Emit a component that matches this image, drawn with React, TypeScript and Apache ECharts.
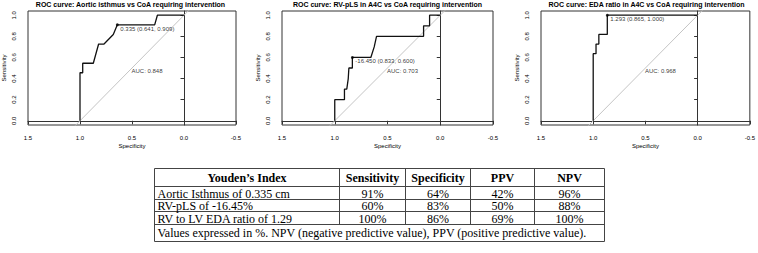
import React, { useEffect, useRef } from "react";
import * as echarts from "echarts";

// ---------- ROC panels ----------
const panelTitles = [
  "ROC curve: Aortic isthmus vs CoA requiring intervention",
  "ROC curve: RV-pLS in A4C vs CoA requiring intervention",
  "ROC curve: EDA ratio in A4C vs CoA requiring intervention",
];
const xAxisName = "Specificity";
const yAxisName = "Sensitivity";
const yTickValues = [0, 0.2, 0.4, 0.6, 0.8, 1.0];

const aorticSpecificity = [1, 1, 0.974, 0.974, 0.872, 0.821, 0.769, 0.68, 0.641, 0.282, 0.256, 0];
const aorticSensitivity = [0, 0.455, 0.455, 0.545, 0.545, 0.727, 0.727, 0.818, 0.909, 0.909, 1, 1];

const rvplsSpecificity = [1, 1, 0.908, 0.908, 0.886, 0.872, 0.866, 0.833, 0.833, 0.658, 0.626, 0.604, 0.158, 0.158, 0.101, 0.101, 0];
const rvplsSensitivity = [0, 0.2, 0.2, 0.3, 0.3, 0.4, 0.5, 0.5, 0.6, 0.6, 0.7, 0.8, 0.8, 0.9, 0.9, 1, 1];

const edaSpecificity = [1, 1, 0.973, 0.973, 0.946, 0.946, 0.865, 0.865, 0];
const edaSensitivity = [0, 0.636, 0.636, 0.727, 0.727, 0.818, 0.818, 1, 1];

const thresholdValues = [0.335, -16.45, 1.293];
const thresholdSpecificity = [0.641, 0.833, 0.865];
const thresholdSensitivity = [0.909, 0.6, 1.0];
const aucValues = [0.848, 0.703, 0.968];

// ---------- Table ----------
const tableHeaders = ["Youden’s Index", "Sensitivity", "Specificity", "PPV", "NPV"];
const tableRowNames = ["Aortic Isthmus of 0.335 cm", "RV-pLS of -16.45%", "RV to LV EDA ratio of 1.29"];
const tableSensitivity = [91, 60, 100];
const tableSpecificity = [64, 83, 86];
const tablePPV = [42, 50, 69];
const tableNPV = [96, 88, 100];
const tableFootnote =
  "Values expressed in %. NPV (negative predictive value), PPV (positive predictive value).";

const SANS = '"Liberation Sans", Arial, Helvetica, sans-serif';
const SERIF = '"Liberation Serif", "Times New Roman", serif';

export default function App() {
  const ref = useRef<HTMLDivElement>(null);

  useEffect(() => {
    if (!ref.current) return;
    const chart = echarts.init(ref.current, undefined, { renderer: "svg" });

    const curves = [
      [aorticSpecificity, aorticSensitivity],
      [rvplsSpecificity, rvplsSensitivity],
      [edaSpecificity, edaSensitivity],
    ];
    const panelLeft = [25, 282, 541];
    const panelTop = 11;
    const panelW = 211;
    const panelH = 114;

    const grids = panelLeft.map((l) => ({
      left: l,
      top: panelTop,
      width: panelW,
      height: panelH,
      show: true,
      borderColor: "#333",
      borderWidth: 1,
      backgroundColor: "transparent",
    }));

    const xAxes = panelLeft.map((_, i) => ({
      type: "value",
      gridIndex: i,
      inverse: true,
      min: -0.5,
      max: 1.5,
      interval: 0.5,
      splitLine: { show: false },
      axisLine: { show: true, lineStyle: { color: "#333", width: 1 } },
      axisTick: { show: true, length: 3.5, lineStyle: { color: "#333" } },
      axisLabel: {
        fontSize: 6,
        fontFamily: SANS,
        color: "#000",
        margin: 10,
        formatter: (v: number) => v.toFixed(1),
      },
      name: xAxisName,
      nameLocation: "middle",
      nameGap: 18,
      nameTextStyle: { fontSize: 6, fontFamily: SANS, color: "#000" },
    }));

    const yAxes = panelLeft.map((_, i) => ({
      type: "value",
      gridIndex: i,
      min: -0.04,
      max: 1.04,
      splitLine: { show: false },
      axisLine: { show: true, lineStyle: { color: "#333", width: 1 } },
      axisTick: { show: true, length: 3.5, customValues: yTickValues, lineStyle: { color: "#333" } },
      axisLabel: {
        fontSize: 6,
        fontFamily: SANS,
        color: "#000",
        margin: 11,
        rotate: 90,
        customValues: yTickValues,
        formatter: (v: number) => v.toFixed(1),
      },
      name: yAxisName,
      nameLocation: "middle",
      nameGap: 21,
      nameRotate: 90,
      nameTextStyle: { fontSize: 6, fontFamily: SANS, color: "#000" },
    }));

    const series: any[] = [];
    curves.forEach(([spec, sens], i) => {
      series.push({
        type: "line",
        xAxisIndex: i,
        yAxisIndex: i,
        data: [
          [1.2, -0.2],
          [-0.2, 1.2],
        ],
        showSymbol: false,
        clip: true,
        lineStyle: { color: "#c4c4c4", width: 1 },
        z: 1,
        silent: true,
      });
      series.push({
        type: "line",
        xAxisIndex: i,
        yAxisIndex: i,
        data: spec.map((s, k) => [s, sens[k]]),
        showSymbol: false,
        clip: true,
        lineStyle: { color: "#111", width: 1.3 },
        z: 3,
        silent: true,
      });
      series.push({
        type: "scatter",
        xAxisIndex: i,
        yAxisIndex: i,
        data: [[thresholdSpecificity[i], thresholdSensitivity[i]]],
        symbolSize: 3,
        itemStyle: { color: "#000" },
        z: 4,
        label: {
          show: true,
          position: [4.5, 5.5],
          align: "left",
          verticalAlign: "middle",
          fontSize: 6,
          fontFamily: SANS,
          color: "#000",
          formatter: () =>
            `${thresholdValues[i].toFixed(3)} (${thresholdSpecificity[i].toFixed(3)}, ${thresholdSensitivity[i].toFixed(3)})`,
        },
        silent: true,
      });
      series.push({
        type: "scatter",
        xAxisIndex: i,
        yAxisIndex: i,
        data: [[0.5, 0.5]],
        symbolSize: 1,
        itemStyle: { color: "transparent" },
        z: 4,
        label: {
          show: true,
          position: [0, 0],
          align: "left",
          verticalAlign: "top",
          fontSize: 6,
          fontFamily: SANS,
          color: "#000",
          formatter: () => `AUC: ${aucValues[i].toFixed(3)}`,
        },
        silent: true,
      });
    });

    // ---------- table graphic ----------
    const tL = 154.5;
    const tR = 604.5;
    const colX = [tL, 339.5, 405.5, 470.5, 534.5, tR];
    const rowY = [168.5, 186.5, 199.5, 211.5, 224.5, 241.5];
    const lineStyle = { stroke: "#444", lineWidth: 1 };
    const g: any[] = [];
    rowY.forEach((y) => {
      g.push({ type: "line", shape: { x1: tL, y1: y, x2: tR, y2: y }, style: lineStyle, silent: true });
    });
    [tL, tR].forEach((x) => {
      g.push({ type: "line", shape: { x1: x, y1: rowY[0], x2: x, y2: rowY[5] }, style: lineStyle, silent: true });
    });
    colX.slice(1, 5).forEach((x) => {
      g.push({ type: "line", shape: { x1: x, y1: rowY[0], x2: x, y2: rowY[4] }, style: lineStyle, silent: true });
    });
    const textBase = { fontSize: 12, fontFamily: SERIF, fill: "#000", verticalAlign: "middle" };
    tableHeaders.forEach((h, c) => {
      g.push({
        type: "text",
        silent: true,
        style: {
          ...textBase,
          fontWeight: "bold",
          text: h,
          x: (colX[c] + colX[c + 1]) / 2,
          y: (rowY[0] + rowY[1]) / 2 + 0.5,
          align: "center",
        },
      });
    });
    const valueCols = [tableSensitivity, tableSpecificity, tablePPV, tableNPV];
    tableRowNames.forEach((name, r) => {
      const cy = (rowY[r + 1] + rowY[r + 2]) / 2 + 0.5;
      g.push({
        type: "text",
        silent: true,
        style: { ...textBase, text: name, x: tL + 3, y: cy, align: "left" },
      });
      valueCols.forEach((arr, c) => {
        g.push({
          type: "text",
          silent: true,
          style: {
            ...textBase,
            text: `${arr[r]}%`,
            x: (colX[c + 1] + colX[c + 2]) / 2,
            y: cy,
            align: "center",
          },
        });
      });
    });
    g.push({
      type: "text",
      silent: true,
      style: { ...textBase, text: tableFootnote, x: tL + 3, y: (rowY[4] + rowY[5]) / 2, align: "left" },
    });

    chart.setOption({
      animation: false,
      backgroundColor: "#fff",
      title: panelTitles.map((t, i) => ({
        text: t,
        left: panelLeft[i] + panelW / 2,
        top: 0.5,
        textAlign: "center",
        padding: 0,
        textStyle: { fontSize: 7, fontWeight: "bold", fontFamily: SANS, color: "#000" },
      })),
      grid: grids,
      xAxis: xAxes,
      yAxis: yAxes,
      series,
      graphic: g,
    });

    return () => chart.dispose();
  }, []);

  return (
    <div
      ref={ref}
      style={{ position: "absolute", left: 0, top: 0, width: 758, height: 253, background: "#fff" }}
    />
  );
}
